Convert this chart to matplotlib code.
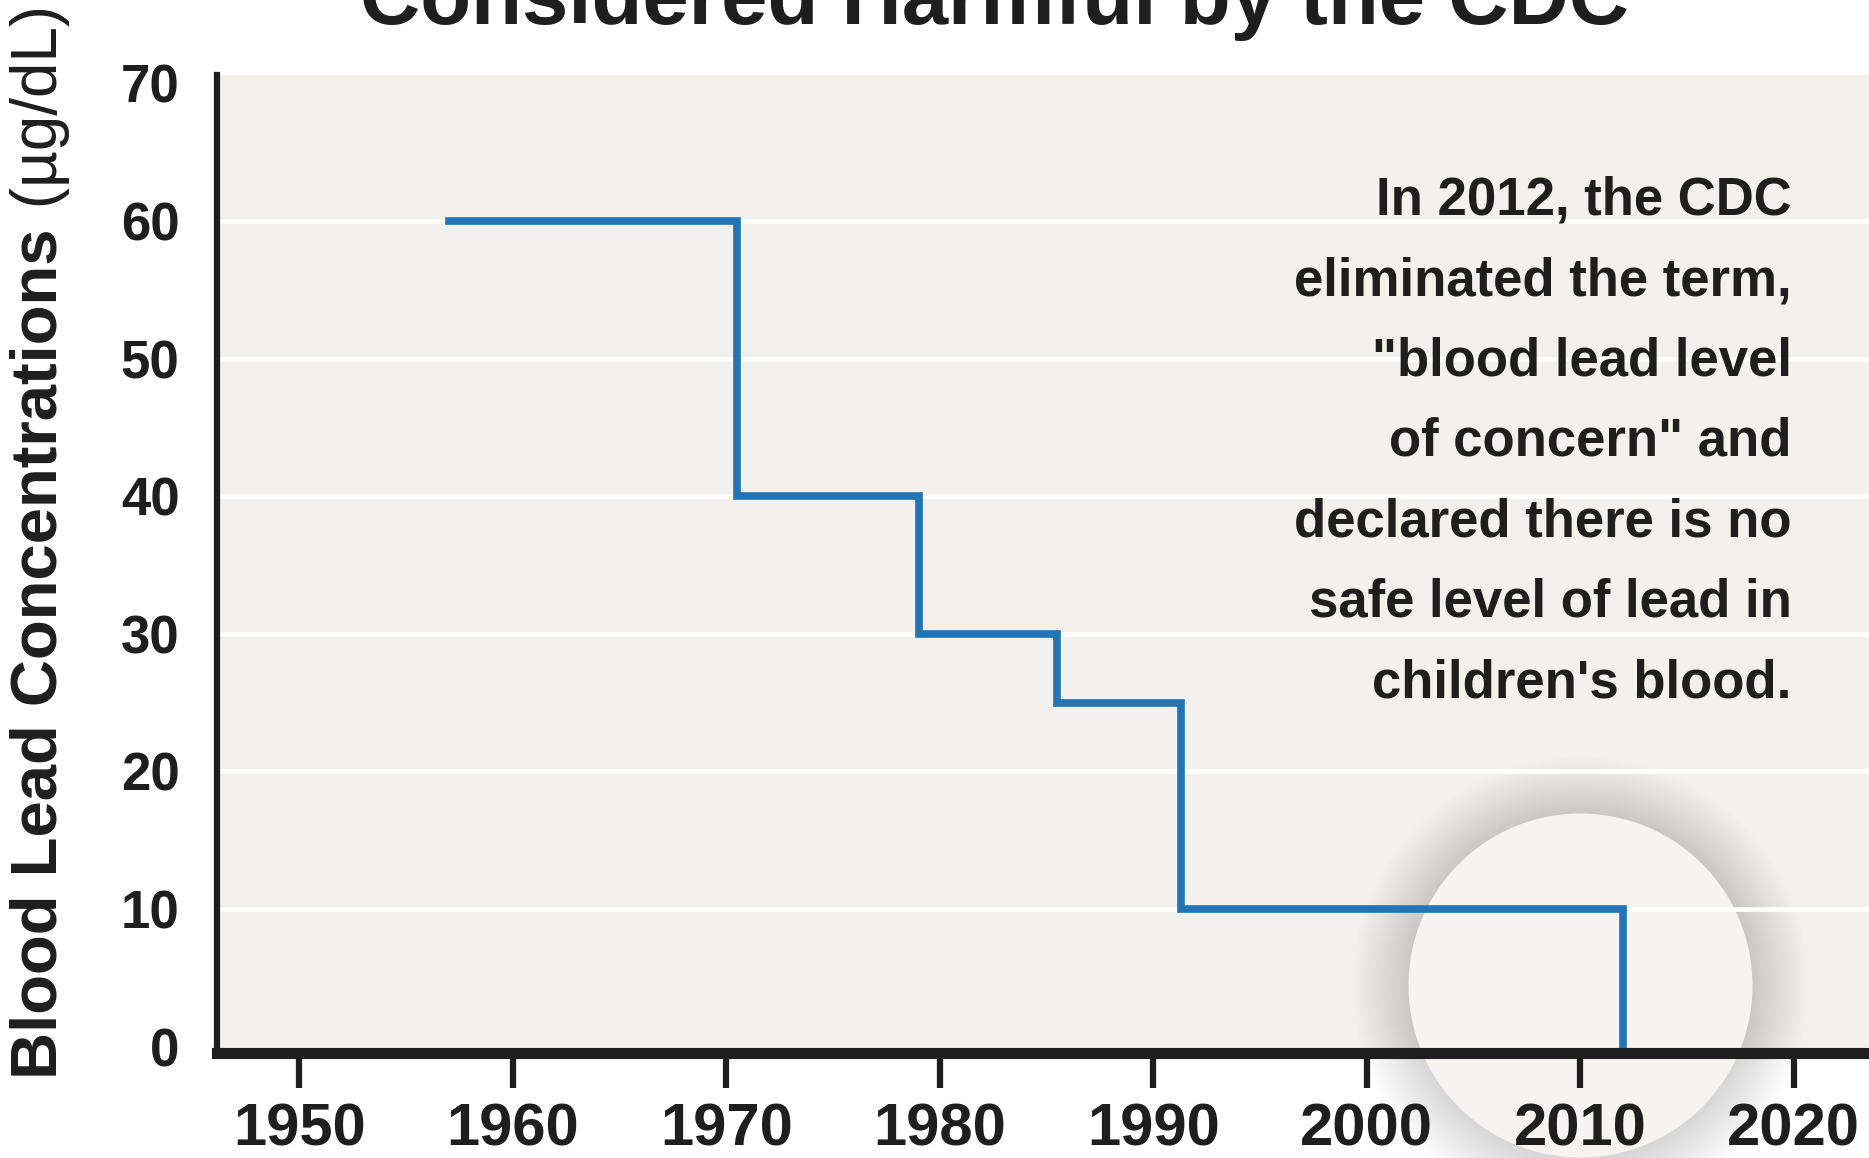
#!/usr/bin/env python3
"""Step chart: blood lead levels considered harmful by the CDC."""

import matplotlib
matplotlib.use('Agg')
import matplotlib.pyplot as plt

# data
change_years = [1957, 1970.5, 1979, 1985.5, 1991.3, 2012]
levels = [60, 40, 30, 25, 10, 0]
x_ticks = [1950, 1960, 1970, 1980, 1990, 2000, 2010, 2020]
y_ticks = [0, 10, 20, 30, 40, 50, 60, 70]
grid_levels = [10, 20, 30, 40, 50, 60]
highlight_year = 2010.0
highlight_level = 4.5

TITLE = "Considered Harmful by the CDC"
YLABEL_BOLD = "Blood Lead Concentrations"
YLABEL_UNIT = " (\u00b5g/dL)"
NOTE = ("In 2012, the CDC\n"
        "eliminated the term,\n"
        "\"blood lead level\n"
        "of concern\" and\n"
        "declared there is no\n"
        "safe level of lead in\n"
        "children's blood.")

FONT = ['Liberation Sans', 'DejaVu Sans']
BLUE = '#2274b5'
INK = '#1e1e1e'
PANEL = '#f3f1ee'

plt.rcParams['font.family'] = FONT

W, H, DPI = 1869, 1158, 100
fig = plt.figure(figsize=(W / DPI, H / DPI), dpi=DPI)
fig.patch.set_facecolor('white')

ax = fig.add_axes([217 / W, 0.0908, 1 - 217 / W, 0.8443])
ax.set_facecolor(PANEL)
ax.set_xlim(1946.14, 2023.52)
ax.set_ylim(-0.45, 70.6)

# soft shadowed disc around the 2012 drop
r_px = 172
r_pt = r_px * 72 / DPI
for i in range(20, 0, -1):
    d = i * 2.8 * 72 / DPI
    ax.scatter([highlight_year], [highlight_level], s=(2 * (r_pt + d)) ** 2,
               marker='o', color='#8a8680', alpha=0.017, linewidths=0,
               zorder=0.1, clip_on=False)
ax.scatter([highlight_year], [highlight_level], s=(2 * r_pt) ** 2,
           marker='o', color='#f5f4f1', linewidths=0, zorder=0.3, clip_on=False)

for lvl in grid_levels:
    ax.axhline(lvl, color='white', lw=3.4, zorder=0.6)

ax.plot(change_years, levels, drawstyle='steps-post', color=BLUE,
        lw=5.5, solid_joinstyle='miter', zorder=3)

for side in ('top', 'right'):
    ax.spines[side].set_visible(False)
ax.spines['bottom'].set_linewidth(8)
ax.spines['bottom'].set_color(INK)
ax.spines['left'].set_linewidth(4.5)
ax.spines['left'].set_color(INK)
ax.spines['bottom'].set_zorder(4)
ax.spines['left'].set_zorder(4)

ax.set_xticks(x_ticks)
ax.set_xticklabels([str(y) for y in x_ticks], fontsize=43, fontweight='bold',
                   color=INK)
ax.tick_params(axis='x', length=25, width=4.5, color=INK, pad=11)
ax.set_yticks(y_ticks)
ax.set_yticklabels([str(v) for v in y_ticks], fontsize=38, fontweight='bold',
                   color=INK)
ax.tick_params(axis='y', length=0, pad=27)

ax.text(2019.9, 63.3, NOTE, ha='right', va='top', multialignment='right',
        fontsize=38, fontweight='bold', color=INK, linespacing=1.78, zorder=5)

fig.text(0.532, 1 - 24 / H, TITLE, ha='center', va='baseline',
         fontsize=60, fontweight='bold', color=INK)

# y label: bold words + regular unit, stacked along the rotated axis
lab = fig.text(40 / W, 1 - 1079 / H, YLABEL_BOLD, rotation=90, ha='center',
               va='bottom', fontsize=47, fontweight='bold', color=INK)
fig.canvas.draw()
bb = lab.get_window_extent()
fig.text(40 / W, (bb.y1 + 2) / H, YLABEL_UNIT, rotation=90, ha='center',
         va='bottom', fontsize=46, color=INK)

fig.savefig('out.png', dpi=DPI, facecolor=fig.get_facecolor())
